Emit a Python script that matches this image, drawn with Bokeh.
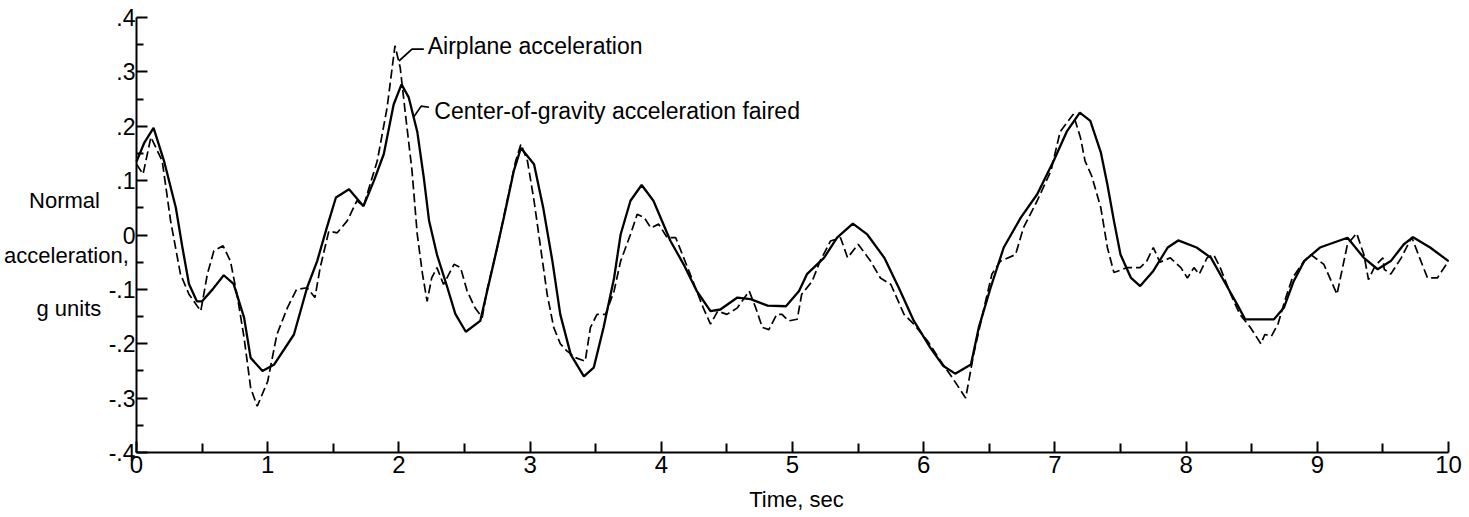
from bokeh.plotting import figure
from bokeh.models import FixedTicker, Label, Range1d, LinearAxis
from bokeh.embed import file_html
from bokeh.resources import INLINE

# Center-of-gravity acceleration faired (solid)
cg_t = [0.00, 0.06, 0.13, 0.21, 0.30, 0.35, 0.40, 0.46, 0.50, 0.58, 0.665, 0.74, 0.82, 0.87, 0.96,
        1.05, 1.20, 1.30, 1.377, 1.45, 1.52, 1.62, 1.73, 1.81, 1.885, 1.96, 2.02, 2.075, 2.14, 2.19,
        2.23, 2.29, 2.37, 2.43, 2.51, 2.62, 2.72, 2.80, 2.876, 2.93, 3.03, 3.10, 3.17, 3.23, 3.31,
        3.41, 3.485, 3.56, 3.64, 3.69, 3.765, 3.85, 3.94, 4.07, 4.17, 4.27, 4.375, 4.45, 4.58, 4.68,
        4.81, 4.95, 5.05, 5.11, 5.24, 5.34, 5.46, 5.57, 5.70, 5.81, 5.925, 6.05, 6.15, 6.24, 6.36,
        6.42, 6.51, 6.61, 6.74, 6.865, 6.99, 7.09, 7.19, 7.27, 7.35, 7.40, 7.45, 7.50, 7.58, 7.65,
        7.75, 7.86, 7.94, 8.08, 8.19, 8.29, 8.39, 8.45, 8.67, 8.745, 8.82, 8.90, 9.02, 9.23, 9.355,
        9.46, 9.56, 9.66, 9.73, 9.86, 10.0]
cg_g = [0.135, 0.170, 0.197, 0.136, 0.050, -0.023, -0.090, -0.122, -0.122, -0.100, -0.074, -0.090,
        -0.152, -0.226, -0.250, -0.238, -0.183, -0.097, -0.048, 0.013, 0.069, 0.084, 0.053, 0.100,
        0.149, 0.240, 0.277, 0.253, 0.190, 0.105, 0.026, -0.036, -0.097, -0.145, -0.178, -0.158,
        -0.054, 0.032, 0.118, 0.160, 0.130, 0.050, -0.048, -0.146, -0.220, -0.260, -0.244, -0.170,
        -0.079, 0.001, 0.063, 0.092, 0.063, -0.011, -0.054, -0.103, -0.140, -0.137, -0.115, -0.118,
        -0.130, -0.131, -0.103, -0.072, -0.042, -0.005, 0.021, 0.001, -0.042, -0.097, -0.158, -0.207,
        -0.241, -0.255, -0.238, -0.170, -0.097, -0.023, 0.032, 0.075, 0.136, 0.190, 0.225, 0.210,
        0.152, 0.093, 0.026, -0.036, -0.079, -0.094, -0.066, -0.023, -0.010, -0.023, -0.042, -0.085,
        -0.128, -0.155, -0.155, -0.134, -0.085, -0.048, -0.023, -0.005, -0.042, -0.063, -0.048,
        -0.017, -0.004, -0.023, -0.048]

# Airplane acceleration (dashed)
ap_t = [0.00, 0.05, 0.11, 0.196, 0.26, 0.335, 0.40, 0.49, 0.54, 0.59, 0.66, 0.716, 0.77, 0.82, 0.87,
        0.92, 1.00, 1.07, 1.15, 1.22, 1.30, 1.36, 1.40, 1.466, 1.53, 1.606, 1.68, 1.73, 1.835, 1.91,
        1.97, 2.01, 2.05, 2.10, 2.14, 2.18, 2.215, 2.25, 2.29, 2.34, 2.42, 2.47, 2.52, 2.58, 2.635,
        2.67, 2.75, 2.825, 2.89, 2.93, 2.98, 3.03, 3.08, 3.13, 3.18, 3.23, 3.28, 3.35, 3.42, 3.46,
        3.51, 3.575, 3.64, 3.69, 3.765, 3.816, 3.87, 3.92, 3.98, 4.045, 4.11, 4.22, 4.32, 4.375,
        4.43, 4.50, 4.58, 4.67, 4.72, 4.77, 4.82, 4.88, 4.92, 4.97, 5.036, 5.07, 5.15, 5.21, 5.29,
        5.366, 5.42, 5.50, 5.595, 5.67, 5.75, 5.85, 5.925, 6.03, 6.13, 6.22, 6.32, 6.38, 6.46, 6.52,
        6.585, 6.70, 6.76, 6.865, 6.97, 7.04, 7.14, 7.195, 7.23, 7.28, 7.35, 7.40, 7.45, 7.55, 7.65,
        7.70, 7.75, 7.80, 7.88, 7.96, 8.01, 8.06, 8.10, 8.16, 8.21, 8.26, 8.34, 8.41, 8.49, 8.57,
        8.60, 8.65, 8.70, 8.76, 8.81, 8.90, 8.95, 9.05, 9.15, 9.23, 9.30, 9.355, 9.39, 9.44, 9.50,
        9.51, 9.56, 9.64, 9.72, 9.78, 9.84, 9.915, 10.0]
ap_g = [0.130, 0.112, 0.180, 0.136, 0.026, -0.072, -0.109, -0.140, -0.072, -0.029, -0.020, -0.048,
        -0.115, -0.189, -0.281, -0.315, -0.269, -0.183, -0.134, -0.100, -0.097, -0.115, -0.060,
        0.007, 0.004, 0.026, 0.063, 0.053, 0.136, 0.234, 0.348, 0.308, 0.222, 0.118, 0.001, -0.072,
        -0.122, -0.079, -0.060, -0.091, -0.054, -0.060, -0.103, -0.134, -0.152, -0.103, -0.023,
        0.063, 0.136, 0.167, 0.136, 0.063, -0.023, -0.109, -0.170, -0.200, -0.213, -0.226, -0.232,
        -0.170, -0.146, -0.146, -0.103, -0.048, 0.001, 0.038, 0.032, 0.013, 0.020, -0.005, -0.005,
        -0.072, -0.134, -0.164, -0.140, -0.146, -0.134, -0.103, -0.134, -0.170, -0.174, -0.146,
        -0.146, -0.158, -0.155, -0.109, -0.085, -0.048, -0.011, -0.005, -0.042, -0.017, -0.048,
        -0.079, -0.091, -0.146, -0.164, -0.195, -0.232, -0.263, -0.300, -0.220, -0.134, -0.072,
        -0.048, -0.036, 0.013, 0.063, 0.118, 0.190, 0.222, 0.179, 0.136, 0.109, 0.050, -0.023,
        -0.069, -0.060, -0.060, -0.048, -0.023, -0.050, -0.042, -0.060, -0.079, -0.060, -0.072,
        -0.042, -0.036, -0.060, -0.109, -0.146, -0.170, -0.200, -0.183, -0.186, -0.164, -0.115,
        -0.079, -0.048, -0.036, -0.054, -0.109, -0.017, 0.003, -0.036, -0.082, -0.057, -0.042,
        -0.063, -0.072, -0.042, -0.004, -0.042, -0.079, -0.079, -0.048]

x_ticks = [0, 1, 2, 3, 4, 5, 6, 7, 8, 9, 10]
x_minor = [0.5, 1.5, 2.5, 3.5, 4.5, 5.5, 6.5, 7.5, 8.5, 9.5]
y_ticks = [-0.4, -0.3, -0.2, -0.1, 0.0, 0.1, 0.2, 0.3, 0.4]
y_tick_labels = ["-.4", "-.3", "-.2", "-.1", "0", ".1", ".2", ".3", ".4"]
y_minor = [-0.35, -0.25, -0.15, -0.05, 0.05, 0.15, 0.25, 0.35]

x_title = "Time, sec"
x_title_pos = (5.03, -0.486)
y_label_lines = ["Normal", "acceleration,", "g units"]
y_label_pos = [(-0.549, 0.063), (-0.534, -0.038), (-0.515, -0.135)]

ann_ap_text = "Airplane acceleration"
ann_ap_leader = ([2.00, 2.10, 2.19], [0.320, 0.342, 0.342])
ann_ap_pos = (2.22, 0.347)
ann_cg_text = "Center-of-gravity acceleration faired"
ann_cg_leader = ([2.11, 2.17, 2.23], [0.216, 0.237, 0.235])
ann_cg_pos = (2.27, 0.228)

FONT = "Liberation Sans"

# page layout: frame spans the whole canvas; axes are pinned at x=0 and y=-0.4
W, H = 1469, 517
X0_PX, X10_PX, YTOP_PX, YBOT_PX = 136, 1448, 17, 452
ppx = (X10_PX - X0_PX) / 10.0
ppy = (YBOT_PX - YTOP_PX) / 0.8
x_rng = Range1d(-X0_PX / ppx, 10 + (W - X10_PX) / ppx)
y_rng = Range1d(-0.4 - (H - YBOT_PX) / ppy, 0.4 + YTOP_PX / ppy)

p = figure(width=W, height=H, output_backend="svg", toolbar_location=None,
           x_range=x_rng, y_range=y_rng,
           x_axis_location=None, y_axis_location=None,
           min_border=0)
p.outline_line_color = None
p.xgrid.visible = False
p.ygrid.visible = False
p.background_fill_color = "white"
p.border_fill_color = "white"

p.line(ap_t, ap_g, line_color="black", line_width=1.7, line_dash="9 4")
p.line(cg_t, cg_g, line_color="black", line_width=2.3)

# leaders
p.line(ann_ap_leader[0], ann_ap_leader[1], line_color="black", line_width=1.7)
p.line(ann_cg_leader[0], ann_cg_leader[1], line_color="black", line_width=1.7)
p.add_layout(Label(x=ann_ap_pos[0], y=ann_ap_pos[1], text=ann_ap_text, text_font=FONT,
                   text_font_size="23px", text_baseline="middle", text_align="left", text_color="black"))
p.add_layout(Label(x=ann_cg_pos[0], y=ann_cg_pos[1], text=ann_cg_text, text_font=FONT,
                   text_font_size="23px", text_baseline="middle", text_align="left", text_color="black"))

for txt, (lx, ly) in zip(y_label_lines, y_label_pos):
    p.add_layout(Label(x=lx, y=ly, text=txt, text_font=FONT, text_font_size="22px",
                       text_baseline="middle", text_align="center", text_color="black"))
p.add_layout(Label(x=x_title_pos[0], y=x_title_pos[1], text=x_title, text_font=FONT,
                   text_font_size="22px", text_baseline="middle", text_align="center", text_color="black"))

xa = LinearAxis(fixed_location=-0.4, bounds=(0, 10))
xa.ticker = FixedTicker(ticks=x_ticks, minor_ticks=x_minor)
xa.major_label_text_font = FONT
xa.major_label_text_font_size = "24px"
xa.major_label_text_color = "black"
xa.major_label_standoff = 3
xa.major_tick_in = 11
xa.major_tick_out = 0
xa.minor_tick_in = 9
xa.minor_tick_out = 0
xa.axis_line_width = 2
xa.axis_line_color = "black"
xa.major_tick_line_color = "black"
xa.minor_tick_line_color = "black"
xa.major_tick_line_width = 2
xa.minor_tick_line_width = 2
p.add_layout(xa, "below")

ya = LinearAxis(fixed_location=0, bounds=(-0.4, 0.4))
ya.ticker = FixedTicker(ticks=y_ticks, minor_ticks=y_minor)
ya.major_label_overrides = {t: s for t, s in zip(y_ticks, y_tick_labels)}
ya.major_label_text_font = FONT
ya.major_label_text_font_size = "23px"
ya.major_label_text_color = "black"
ya.major_label_standoff = 1
ya.major_label_orientation = "horizontal"
ya.major_tick_in = 11
ya.major_tick_out = 0
ya.minor_tick_in = 7
ya.minor_tick_out = 0
ya.axis_line_width = 2
ya.axis_line_color = "black"
ya.major_tick_line_color = "black"
ya.minor_tick_line_color = "black"
ya.major_tick_line_width = 2
ya.minor_tick_line_width = 2
p.add_layout(ya, "left")

open("out.html", "w").write(file_html(p, INLINE))
